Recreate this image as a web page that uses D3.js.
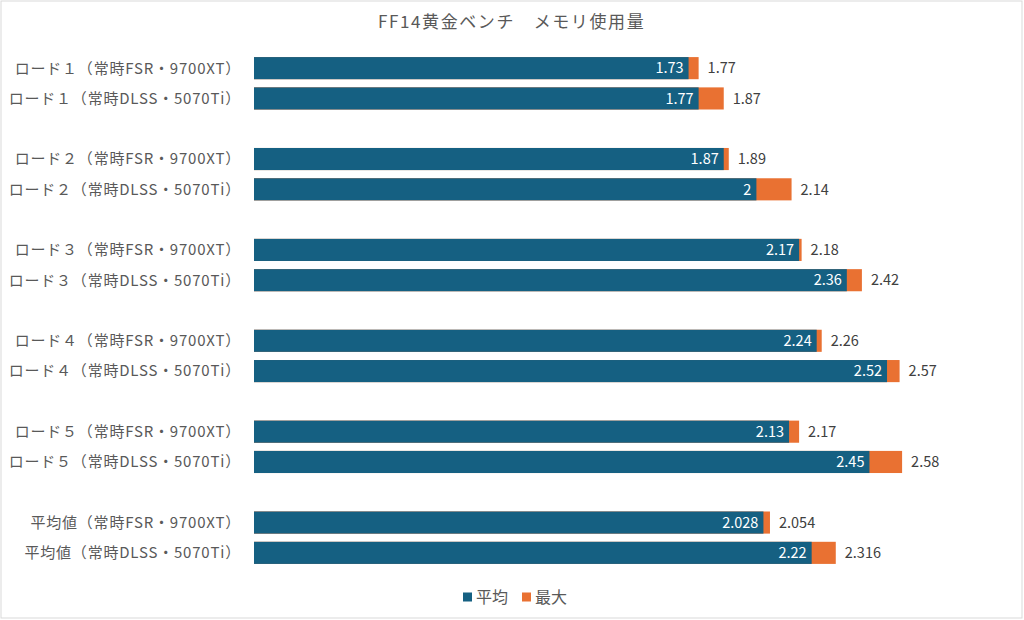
<!DOCTYPE html>
<html>
<head>
<meta charset="utf-8">
<script src="https://cdn.jsdelivr.net/npm/d3@7"></script>
<style>
  body { margin: 0; background: #ffffff; }
  svg text { font-family: "Noto Sans CJK JP", "Noto Sans", sans-serif; }
</style>
</head>
<body>
<svg id="chart" width="1024" height="620"></svg>
<script>
const chartTitle = "FF14黄金ベンチ　メモリ使用量";

const rowLabels = [
    "ロード１（常時FSR・9700XT）",
    "ロード１（常時DLSS・5070Ti）",
    "ロード２（常時FSR・9700XT）",
    "ロード２（常時DLSS・5070Ti）",
    "ロード３（常時FSR・9700XT）",
    "ロード３（常時DLSS・5070Ti）",
    "ロード４（常時FSR・9700XT）",
    "ロード４（常時DLSS・5070Ti）",
    "ロード５（常時FSR・9700XT）",
    "ロード５（常時DLSS・5070Ti）",
    "平均値（常時FSR・9700XT）",
    "平均値（常時DLSS・5070Ti）"
];

const avgValues = [1.73, 1.77, 1.87, 2, 2.17, 2.36, 2.24, 2.52, 2.13, 2.45, 2.028, 2.22];
const maxValues = [1.77, 1.87, 1.89, 2.14, 2.18, 2.42, 2.26, 2.57, 2.17, 2.58, 2.054, 2.316];

const seriesNames = ["平均", "最大"];
const seriesPaint = ["#156082", "#e97132"];

const box = { width: 1024, height: 620 };
const textGray = "#595959";

// Two rows per group, with an empty slot between groups (like the blank rows in the sheet).
const slots = [];
rowLabels.forEach((label, i) => {
    if (i > 0 && i % 2 === 0) slots.push({ key: `gap-${i}`, blank: true });
    slots.push({ key: `row-${i}`, label, avg: avgValues[i], max: maxValues[i] });
});
const rows = slots.filter(d => !d.blank);

const svg = d3.select("#chart");

svg.append("rect")
    .attr("x", 1)
    .attr("y", 1)
    .attr("width", box.width - 3)
    .attr("height", box.height - 3)
    .attr("fill", "#ffffff")
    .attr("stroke", "#d9d9d9")
    .attr("stroke-width", 1);

svg.append("text")
    .attr("x", 378)
    .attr("y", 28)
    .attr("font-size", 17)
    .attr("letter-spacing", 1.6)
    .attr("fill", textGray)
    .text(chartTitle);

const y = d3.scaleBand()
    .domain(slots.map(d => d.key))
    .range([53, 568])
    .paddingInner(0.27)
    .paddingOuter(0.135);

const x = d3.scaleLinear()
    .domain([0, 3])
    .range([254, 254 + 3 * 251.2]);

// Max bars sit behind the average bars, so only the overshoot shows in orange.
svg.append("g")
    .selectAll("rect")
    .data(rows)
    .join("rect")
    .attr("x", x(0))
    .attr("y", d => y(d.key))
    .attr("width", d => x(d.max) - x(0))
    .attr("height", y.bandwidth())
    .attr("fill", seriesPaint[1]);

svg.append("g")
    .selectAll("rect")
    .data(rows)
    .join("rect")
    .attr("x", x(0))
    .attr("y", d => y(d.key))
    .attr("width", d => x(d.avg) - x(0))
    .attr("height", y.bandwidth())
    .attr("fill", seriesPaint[0]);

// Category labels on the left
svg.append("g")
    .selectAll("text")
    .data(rows)
    .join("text")
    .attr("x", 241)
    .attr("y", d => y(d.key) + y.bandwidth() / 2)
    .attr("dy", "0.36em")
    .attr("text-anchor", "end")
    .attr("font-size", 15)
    .attr("letter-spacing", 0.8)
    .attr("fill", textGray)
    .text(d => d.label);

// Average value, inside the end of the teal bar
svg.append("g")
    .selectAll("text")
    .data(rows)
    .join("text")
    .attr("x", d => x(d.avg) - 5)
    .attr("y", d => y(d.key) + y.bandwidth() / 2)
    .attr("dy", "0.36em")
    .attr("text-anchor", "end")
    .attr("font-size", 14.5)
    .attr("fill", "#ffffff")
    .text(d => d.avg);

// Max value, just past the orange end
svg.append("g")
    .selectAll("text")
    .data(rows)
    .join("text")
    .attr("x", d => x(d.max) + 9)
    .attr("y", d => y(d.key) + y.bandwidth() / 2)
    .attr("dy", "0.36em")
    .attr("font-size", 14.5)
    .attr("fill", "#404040")
    .text(d => d.max);

// Legend
const legend = svg.append("g")
    .attr("transform", "translate(463,597)");

const legendItem = legend.selectAll("g")
    .data(seriesNames)
    .join("g")
    .attr("transform", (d, i) => `translate(${i * 59},0)`);

legendItem.append("rect")
    .attr("x", 0)
    .attr("y", -4.5)
    .attr("width", 9)
    .attr("height", 9)
    .attr("fill", (d, i) => seriesPaint[i]);

legendItem.append("text")
    .attr("x", 13)
    .attr("dy", "0.36em")
    .attr("font-size", 16)
    .attr("fill", textGray)
    .text(d => d);
</script>
</body>
</html>
